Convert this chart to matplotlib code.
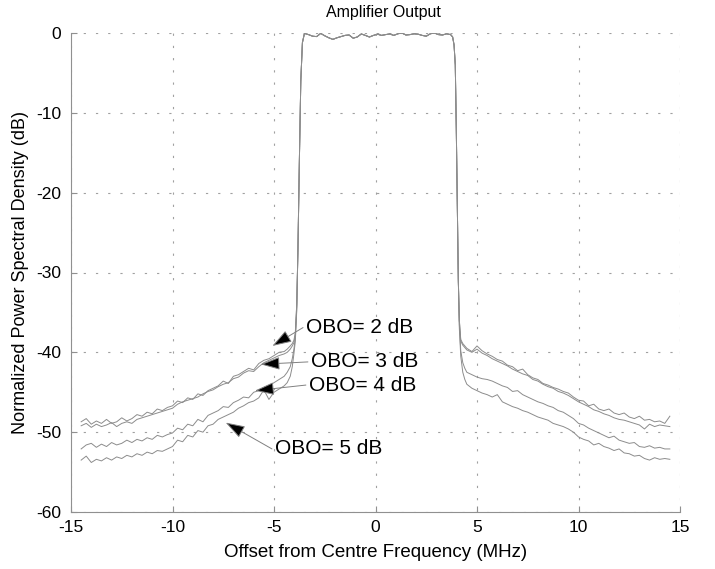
import numpy as np
import matplotlib
matplotlib.use("Agg")
import matplotlib.pyplot as plt

### Data ###

# frequency offsets (MHz)
left_skirt_x = np.arange(-14.5, -4.49, 0.25)
left_edge_x = [-4.35, -4.2, -4.1, -4.02, -3.95, -3.88, -3.82, -3.75, -3.68, -3.6]
pass_x = np.linspace(-3.5, 3.7, 37)
right_edge_x = [3.8, 3.87, 3.93, 3.98, 4.03, 4.08, 4.13, 4.2, 4.3, 4.4]
right_skirt_x = np.arange(4.5, 14.51, 0.25)

# passband ripple, shared by all four curves (dB)
pass_db = [-0.05, -0.2, -0.4, -0.45, -0.05, -0.35, -0.6, -0.8, -0.6, -0.45,
           -0.3, -0.25, -0.65, -0.5, -0.12, -0.3, -0.5, -0.3, -0.15, -0.3,
           -0.2, -0.12, -0.3, -0.1, 0.0, -0.25, -0.2, -0.1, -0.15, -0.3,
           -0.4, -0.1, 0.0, -0.2, -0.25, -0.1, -0.2]

left_skirt = {
    2: [-48.7, -48.3, -49.0, -48.6, -48.9, -48.4, -48.9, -48.7, -48.2, -48.6,
        -48.3, -47.8, -48.0, -47.5, -47.7, -47.1, -47.3, -46.9, -46.7, -46.1,
        -46.3, -45.7, -45.9, -45.2, -45.4, -44.8, -44.5, -44.2, -43.6, -43.9,
        -43.0, -42.8, -42.4, -42.0, -42.2, -41.4, -41.0, -40.8, -40.4, -40.0,
        -39.9],
    3: [-49.2, -48.9, -49.4, -49.0, -49.3, -49.1, -48.8, -49.3, -48.9, -48.7,
        -48.9, -48.4, -48.2, -48.0, -47.8, -47.6, -47.4, -47.2, -47.0, -46.5,
        -46.2, -46.0, -45.8, -45.6, -45.2, -44.9, -44.7, -44.3, -44.0, -43.8,
        -43.3, -43.1, -42.6, -42.3, -42.4, -41.8, -41.3, -41.0, -40.7, -40.4,
        -40.2],
    4: [-52.1, -51.6, -51.4, -51.9, -51.5, -51.8, -51.3, -51.6, -51.4, -51.0,
        -51.3, -50.9, -51.1, -50.7, -50.9, -50.4, -50.6, -50.3, -50.1, -49.5,
        -49.7, -49.0, -49.2, -48.4, -48.7, -47.9, -47.6, -47.3, -46.8, -46.9,
        -46.3, -46.0, -45.6, -45.7, -45.0, -44.8, -44.5, -44.2, -43.8, -43.4,
        -43.0],
    5: [-53.5, -53.0, -53.8, -53.4, -53.6, -53.2, -53.5, -53.1, -53.3, -52.9,
        -53.1, -52.7, -52.9, -52.5, -52.7, -52.3, -52.4, -52.1, -51.8, -51.0,
        -51.2, -50.4, -50.6, -49.8, -50.0, -49.2, -49.0, -48.4, -48.1, -47.8,
        -47.5, -47.0, -46.7, -46.3, -46.1, -45.7, -44.7, -45.9, -45.0, -44.6,
        -44.2],
}

left_edge = {
    2: [-39.6, -39.2, -38.9, -38.5, -37.5, -34.0, -27.0, -16.0, -6.0, -1.2],
    3: [-40.0, -39.6, -39.2, -38.8, -37.8, -34.0, -27.0, -16.0, -6.0, -1.2],
    4: [-42.5, -41.8, -40.8, -39.6, -38.2, -34.5, -27.0, -16.0, -6.0, -1.2],
    5: [-43.8, -43.0, -41.8, -40.2, -38.6, -34.8, -27.0, -16.0, -6.0, -1.2],
}

right_edge = {
    2: [-0.5, -1.5, -4.0, -12.0, -22.0, -31.0, -36.0, -38.4, -38.9, -39.2],
    3: [-0.5, -1.5, -4.0, -12.0, -22.0, -31.0, -36.0, -38.6, -39.1, -39.4],
    4: [-0.5, -1.5, -4.0, -12.0, -22.0, -31.0, -36.5, -39.8, -41.3, -42.0],
    5: [-0.5, -1.5, -4.0, -12.0, -22.0, -31.0, -37.0, -40.5, -42.5, -43.4],
}

right_skirt = {
    2: [-39.5, -39.9, -39.2, -39.8, -40.2, -40.5, -40.9, -41.1, -41.6, -41.8,
        -42.3, -42.1, -42.8, -43.2, -43.4, -43.9, -44.1, -44.4, -44.6, -44.9,
        -45.1, -45.6, -46.0, -46.1, -46.7, -46.5, -47.1, -47.3, -47.1, -47.6,
        -47.8, -47.6, -48.1, -48.3, -48.0, -48.5, -48.4, -48.7, -48.6, -48.9,
        -48.0],
    3: [-39.7, -40.0, -39.6, -40.1, -40.4, -40.8, -41.1, -41.4, -41.7, -42.1,
        -42.4, -42.7, -42.9, -43.4, -43.6, -44.0, -44.3, -44.5, -44.9, -45.1,
        -45.4, -45.8, -46.2, -46.5, -46.8, -47.2, -47.4, -47.7, -47.9, -48.2,
        -48.4, -48.5, -48.7, -48.9, -49.1, -49.6, -49.0, -49.3, -49.1, -49.2,
        -49.3],
    4: [-42.5, -42.8, -43.1, -43.3, -43.4, -43.6, -43.9, -44.2, -44.4, -44.9,
        -44.8, -45.3, -45.6, -45.9, -46.2, -46.4, -46.7, -46.9, -47.3, -47.5,
        -47.9, -48.3, -48.9, -49.1, -49.5, -49.8, -50.1, -50.4, -50.7, -50.5,
        -51.0, -51.2, -51.4, -51.3, -51.8, -51.9, -51.7, -52.0, -51.9, -52.1,
        -52.1],
    5: [-44.0, -44.5, -44.8, -45.1, -45.3, -45.6, -45.3, -46.2, -46.5, -46.8,
        -47.0, -47.3, -47.5, -47.8, -48.1, -48.3, -48.5, -48.9, -49.1, -49.3,
        -49.6, -50.0, -50.6, -50.9, -51.1, -51.6, -51.4, -51.8, -52.0, -52.3,
        -52.1, -52.6, -52.7, -53.0, -52.9, -53.3, -53.5, -53.2, -53.4, -53.3,
        -53.4],
}

obo_levels = [2, 3, 4, 5]
label_text = ["OBO= 2 dB", "OBO= 3 dB", "OBO= 4 dB", "OBO= 5 dB"]
label_xy = [(-3.42, -36.9), (-3.18, -41.2), (-3.28, -44.1), (-4.95, -52.1)]
arrow_tip = [(-5.08, -39.2), (-5.66, -41.5), (-5.94, -44.8), (-7.38, -48.8)]

x_ticks = [-15, -10, -5, 0, 5, 10, 15]
y_ticks = [-60, -50, -40, -30, -20, -10, 0]

### Plot ###

plt.rcParams['font.family'] = ['Liberation Sans', 'DejaVu Sans']
plt.rcParams['axes.unicode_minus'] = False

fig = plt.figure(figsize=(7.15, 5.69), dpi=100)
ax = fig.add_axes([71 / 715, 1 - 512 / 569, 609 / 715, 479 / 569])

freq = np.concatenate([left_skirt_x, left_edge_x, pass_x, right_edge_x, right_skirt_x])
for obo in obo_levels:
    psd = np.concatenate([left_skirt[obo], left_edge[obo], pass_db,
                          right_edge[obo], right_skirt[obo]])
    ax.plot(freq, psd, color='#8c8c8c', lw=0.7)

# MATLAB style text arrows: grey shaft, black head
for text, xy, tip in zip(label_text, label_xy, arrow_tip):
    ax.annotate('', xy=tip, xytext=(xy[0] - 0.15, xy[1]),
                arrowprops=dict(arrowstyle='-|>,head_length=1.2,head_width=0.4',
                                fc='black', ec='#808080', lw=0.7,
                                shrinkA=0, shrinkB=0))
    ax.text(xy[0], xy[1], text, fontsize=15, va='center', ha='left')

ax.set_xlim(-15, 15)
ax.set_ylim(-60, 0)
ax.set_xticks(x_ticks)
ax.set_yticks(y_ticks)
ax.tick_params(direction='in', length=4, color='#909090', labelsize=12.5)
ax.tick_params(axis='x', pad=6)
ax.tick_params(axis='y', pad=7)
ax.grid(True, color='#a0a0a0', lw=0.8, linestyle=(0, (2, 9)))
for side in ['top', 'right']:
    ax.spines[side].set_visible(False)
for side in ['left', 'bottom']:
    ax.spines[side].set_color('#909090')
    ax.spines[side].set_linewidth(0.8)

fig.text(383 / 715, 1 - 12 / 569, "Amplifier Output", fontsize=11.5,
         ha='center', va='center')
ax.set_xlabel("Offset from Centre Frequency (MHz)", fontsize=13.5, labelpad=6)
ax.set_ylabel("Normalized Power Spectral Density (dB)", fontsize=13, labelpad=5)

fig.savefig("out.png", dpi=100)
